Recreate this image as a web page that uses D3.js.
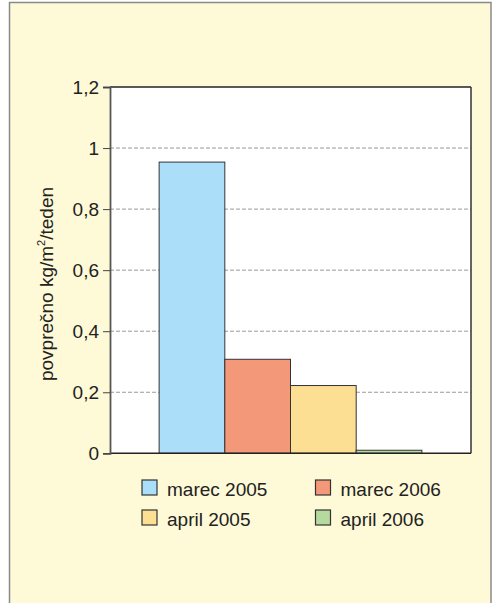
<!DOCTYPE html>
<html><head><meta charset="utf-8">
<script src="https://cdn.jsdelivr.net/npm/d3@7"></script>
<style>body{margin:0;background:#fff;}svg{display:block;}</style>
</head><body>
<script>
const categories = ["marec 2005", "marec 2006", "april 2005", "april 2006"];
const values = [0.954, 0.308, 0.222, 0.01];
const colors = ["#ABDFF9", "#F4987A", "#FDDF93", "#B6D99D"];
const yTicks = [0, 0.2, 0.4, 0.6, 0.8, 1, 1.2];
const yTickLabels = ["0", "0,2", "0,4", "0,6", "0,8", "1", "1,2"];
const yTitle = "povprečno kg/m";
const legendOrder = [[0, 1], [2, 3]];

const W = 494, H = 603;
const svg = d3.select("body").append("svg").attr("width", W).attr("height", H);
const font = "'Liberation Sans', Arial, sans-serif";

// outer frame
svg.append("rect").attr("x", 9.5).attr("y", 2.5).attr("width", 481.5).attr("height", 610)
  .attr("fill", "#FEF9D6").attr("stroke", "#8a8a8a").attr("stroke-width", 1.5);

const m = {l: 110, t: 87, r: 471, b: 453.3};
const y = d3.scaleLinear().domain([0, 1.2]).range([m.b, m.t]);
const x0 = d3.scaleBand().domain(["g"]).range([m.l, m.r]).paddingInner(0).paddingOuter(0.187);
const x1 = d3.scaleBand().domain(categories).range([0, x0.bandwidth()]);

// plot background
svg.append("rect").attr("x", m.l).attr("y", m.t).attr("width", m.r - m.l).attr("height", m.b - m.t)
  .attr("fill", "#fff");

// grid
svg.append("g").selectAll("line").data(yTicks.filter(d => d > 0 && d < 1.2)).join("line")
  .attr("x1", m.l).attr("x2", m.r).attr("y1", d => y(d)).attr("y2", d => y(d))
  .attr("stroke", "#9a9a9a").attr("stroke-width", 1).attr("stroke-dasharray", "4,2");

// bars
svg.append("g").selectAll("rect").data(values).join("rect")
  .attr("x", (d, i) => x0("g") + x1(categories[i]))
  .attr("y", d => y(d))
  .attr("width", x1.bandwidth())
  .attr("height", d => y(0) - y(d))
  .attr("fill", (d, i) => colors[i])
  .attr("stroke", "#333").attr("stroke-width", 1);

// border of plot
svg.append("line").attr("x1", m.l).attr("x2", m.r).attr("y1", m.t).attr("y2", m.t).attr("stroke", "#222").attr("stroke-width", 1.5);
svg.append("line").attr("x1", m.r).attr("x2", m.r).attr("y1", m.t).attr("y2", m.b).attr("stroke", "#333").attr("stroke-width", 1.5);
svg.append("line").attr("x1", m.l).attr("x2", m.r).attr("y1", m.b).attr("y2", m.b).attr("stroke", "#222").attr("stroke-width", 1.5);

// y axis
const yAxis = d3.axisLeft(y).tickValues(yTicks).tickSize(7).tickPadding(4)
  .tickFormat((d, i) => yTickLabels[i]);
const ga = svg.append("g").attr("transform", `translate(${m.l},0)`).call(yAxis);
ga.select(".domain").attr("stroke", "#555").attr("stroke-width", 1.8);
ga.selectAll(".tick line").attr("stroke", "#444");
ga.selectAll(".tick text").attr("font-family", font).attr("font-size", 19).attr("fill", "#222");

// y title
const t = svg.append("text").attr("transform", "translate(53,284) rotate(-90)")
  .attr("text-anchor", "middle").attr("font-family", font).attr("font-size", 19).attr("fill", "#222");
t.append("tspan").text(yTitle);
t.append("tspan").text("2").attr("font-size", 11).attr("dy", -8);
t.append("tspan").text("/teden").attr("dy", 8);

// legend
const lg = svg.append("g");
legendOrder.forEach((row, r) => {
  row.forEach((idx, c) => {
    const lx = 142 + c * 173.5, ly = 480 + r * 30;
    lg.append("rect").attr("x", lx).attr("y", ly).attr("width", 15).attr("height", 15)
      .attr("fill", colors[idx]).attr("stroke", "#333").attr("stroke-width", 1.2);
    lg.append("text").attr("x", lx + 25).attr("y", ly + 15.5).text(categories[idx])
      .attr("font-family", font).attr("font-size", 19).attr("fill", "#222");
  });
});
</script>
</body></html>
